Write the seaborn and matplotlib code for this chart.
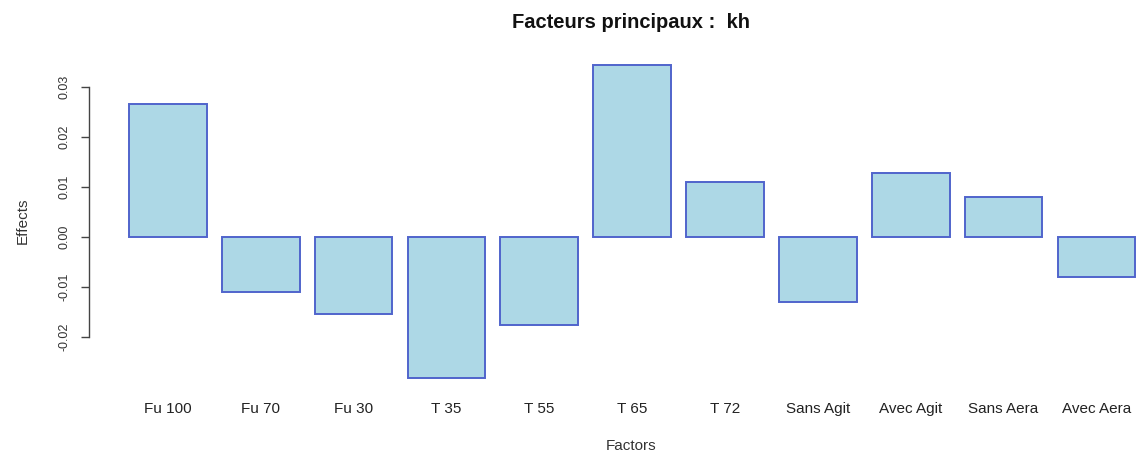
import matplotlib
matplotlib.use("Agg")
import matplotlib.pyplot as plt
import seaborn as sns
import pandas as pd

categories = ["Fu 100", "Fu 70", "Fu 30", "T 35", "T 55", "T 65", "T 72",
              "Sans Agit", "Avec Agit", "Sans Aera", "Avec Aera"]
effects = [0.0265, -0.0110, -0.0155, -0.0282, -0.0177, 0.0344, 0.0110,
           -0.0130, 0.0128, 0.0080, -0.0080]
ytick_values = [-0.02, -0.01, 0.00, 0.01, 0.02, 0.03]
ytick_labels = ["-0.02", "-0.01", "0.00", "0.01", "0.02", "0.03"]
title = "Facteurs principaux :  kh"
xlabel = "Factors"
ylabel = "Effects"

sns.set_style("white")
plt.rcParams["font.family"] = ["Liberation Sans", "DejaVu Sans"]

W, H = 1139, 454
fig = plt.figure(figsize=(W / 100, H / 100), dpi=100)
ax = fig.add_axes([89 / W, (H - 390) / H, (W - 89) / W, 338 / H])

df = pd.DataFrame({"factor": categories, "effect": effects})
sns.barplot(data=df, x="factor", y="effect", order=categories,
            color="#ADD8E6", saturation=1, width=0.837,
            edgecolor="#5064cc", linewidth=1.4, ax=ax)

ax.set_xlim(-0.8497, 10.458)
ax.set_ylim(-(390 - 236.5) / 5000, (236.5 - 52) / 5000)

for s in ["top", "right", "bottom"]:
    ax.spines[s].set_visible(False)
ax.spines["left"].set_bounds(-0.02, 0.03)
ax.spines["left"].set_color("#444444")
ax.spines["left"].set_linewidth(1.0)

ax.set_yticks(ytick_values)
ax.set_yticklabels(ytick_labels, rotation=90, va="center", fontsize=9, color="#333333")
ax.tick_params(axis="y", length=6, width=1.0, color="#444444", pad=7, left=True)
ax.tick_params(axis="x", length=0, pad=16.5, labelsize=11, labelcolor="#222222")
for lbl in ax.get_xticklabels():
    lbl.set_verticalalignment("baseline")

ax.set_xlabel("")
ax.set_ylabel("")
ax.grid(False)

fig.text(631 / W, 1 - 22 / H, title, ha="center", va="center",
         fontsize=14.5, fontweight="bold", color="#111111")
fig.text(631 / W, 1 - 446 / H, xlabel, ha="center", va="center",
         fontsize=11, color="#333333")
fig.text(23 / W, 1 - 221 / H, ylabel, ha="center", va="center",
         rotation=90, fontsize=11, color="#333333")

fig.savefig("out.png", dpi=100, facecolor="white")
